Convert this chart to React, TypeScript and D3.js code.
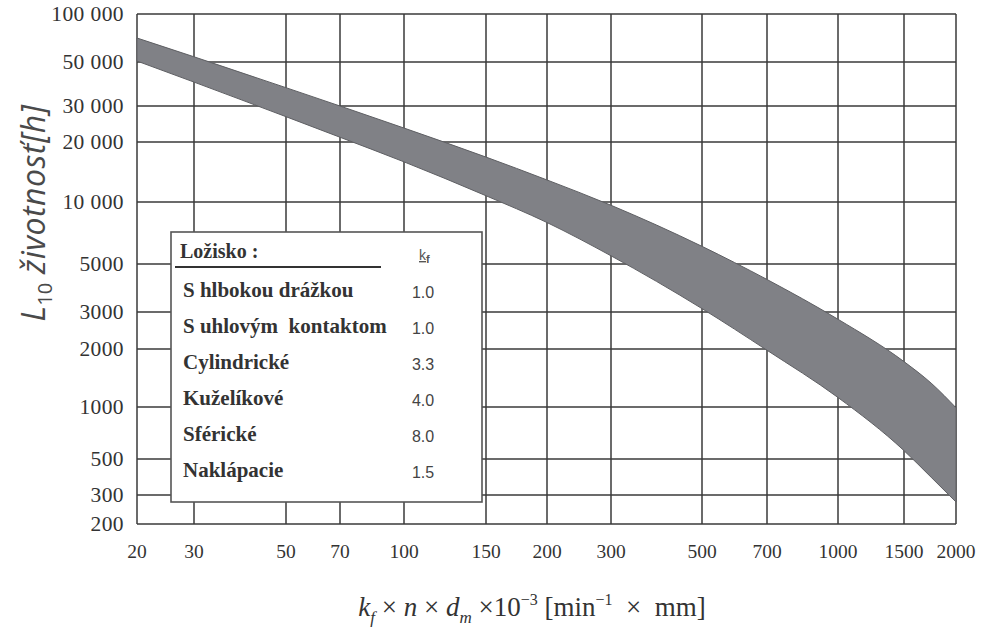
import * as React from 'react';
import * as d3 from 'd3';

const WIDTH = 991;
const HEIGHT = 627;

const xTicks = [20, 30, 50, 70, 100, 150, 200, 300, 500, 700, 1000, 1500, 2000];
const yTicks = [200, 300, 500, 1000, 2000, 3000, 5000, 10000, 20000, 30000, 50000, 100000];
const yTickLabels = ['200', '300', '500', '1000', '2000', '3000', '5000', '10 000', '20 000', '30 000', '50 000', '100 000'];

// L10 band (upper / lower edge)
const bandX = [20, 30, 50, 70, 100, 150, 200, 300, 500, 700, 1000, 1500, 1750, 2000];
const bandUpper = [70700, 53900, 37100, 30000, 23400, 16800, 12900, 9640, 6090, 4240, 2770, 1720, 1320, 990];
const bandLower = [50700, 39600, 26600, 21100, 15900, 10750, 7950, 5480, 3110, 1970, 1120, 559, 382, 272];

const bearings = ['S hlbokou drážkou', 'S uhlovým  kontaktom', 'Cylindrické', 'Kuželíkové', 'Sférické', 'Naklápacie'];
const kfValues = ['1.0', '1.0', '3.3', '4.0', '8.0', '1.5'];

// the printed axes are not evenly spaced, so the log scales are piecewise
const xStops = [137, 194, 286, 340, 404, 486, 547, 611, 702, 767, 838, 904, 956];
const yStops = [524, 495, 459, 407, 349, 312, 264, 202, 142, 106, 62, 14];

const SERIF = '"Liberation Serif", "Times New Roman", serif';
const SANS = '"Liberation Sans", Arial, sans-serif';

class LifeChart extends React.Component {
  svgRef = React.createRef<SVGSVGElement>();

  componentDidMount() {
    this.draw();
  }

  draw = () => {
    const svg = d3.select(this.svgRef.current);
    svg.selectAll('*').remove();

    const x = d3.scaleLog().domain(xTicks).range(xStops);
    const y = d3.scaleLog().domain(yTicks).range(yStops);
    const [x0, x1] = [x(20), x(2000)];
    const [y0, y1] = [y(200), y(100000)];

    // grid
    const grid = svg.append('g').attr('stroke', '#3a3a3a').attr('stroke-width', 1.5);
    grid
      .selectAll('line.v')
      .data(xTicks)
      .enter()
      .append('line')
      .attr('x1', d => x(d))
      .attr('x2', d => x(d))
      .attr('y1', y1)
      .attr('y2', y0);
    grid
      .selectAll('line.h')
      .data(yTicks)
      .enter()
      .append('line')
      .attr('x1', x0)
      .attr('x2', x1)
      .attr('y1', d => y(d))
      .attr('y2', d => y(d));

    // band
    const rows = bandX.map((v, i) => ({ x: v, hi: bandUpper[i], lo: bandLower[i] }));
    const area = d3
      .area<{ x: number; hi: number; lo: number }>()
      .x(d => x(d.x))
      .y0(d => y(d.lo))
      .y1(d => y(d.hi))
      .curve(d3.curveMonotoneX);
    svg
      .append('path')
      .datum(rows)
      .attr('d', area)
      .attr('fill', '#808186')
      .attr('stroke', '#5e5f63')
      .attr('stroke-width', 1);

    // tick labels
    svg
      .append('g')
      .selectAll('text')
      .data(xTicks)
      .enter()
      .append('text')
      .attr('x', d => x(d))
      .attr('y', 558)
      .attr('text-anchor', 'middle')
      .attr('font-family', SERIF)
      .attr('font-size', 19.5)
      .attr('fill', '#333')
      .text(d => String(d));

    svg
      .append('g')
      .selectAll('text')
      .data(yTicks)
      .enter()
      .append('text')
      .attr('x', 124)
      .attr('y', d => y(d) + 7)
      .attr('text-anchor', 'end')
      .attr('font-family', SERIF)
      .attr('font-size', 21.5)
      .attr('letter-spacing', 0.4)
      .attr('fill', '#333')
      .style('white-space', 'pre')
      .text((d, i) => yTickLabels[i]);

    // x axis title
    const xt = svg
      .append('text')
      .attr('x', 532)
      .attr('y', 616)
      .attr('text-anchor', 'middle')
      .attr('font-family', SERIF)
      .attr('font-size', 27)
      .attr('fill', '#333')
      .style('white-space', 'pre');
    xt.append('tspan').attr('font-style', 'italic').text('k');
    xt.append('tspan').attr('font-style', 'italic').attr('font-size', 17).attr('dy', 7).text('f');
    xt.append('tspan').attr('dy', -7).text(' × ');
    xt.append('tspan').attr('font-style', 'italic').text('n');
    xt.append('tspan').text(' × ');
    xt.append('tspan').attr('font-style', 'italic').text('d');
    xt.append('tspan').attr('font-style', 'italic').attr('font-size', 17).attr('dy', 7).text('m');
    xt.append('tspan').attr('dy', -7).text(' ×10');
    xt.append('tspan').attr('font-size', 16).attr('dy', -11).text('−3');
    xt.append('tspan').attr('dy', 11).text(' [min');
    xt.append('tspan').attr('font-size', 16).attr('dy', -11).text('−1');
    xt.append('tspan').attr('dy', 11).text('  ×  mm]');

    // y axis title
    const yt = svg
      .append('text')
      .attr('transform', 'translate(45,213) rotate(-90)')
      .attr('text-anchor', 'middle')
      .attr('font-family', '"Open Sans", "Noto Sans", sans-serif')
      .attr('font-style', 'italic')
      .attr('font-size', 32)
      .attr('letter-spacing', 0.5)
      .attr('fill', '#4a4a4a')
      .style('white-space', 'pre');
    yt.append('tspan').text('L');
    yt.append('tspan').attr('font-size', 20).attr('font-style', 'normal').attr('letter-spacing', 0).attr('dy', 7).text('10');
    yt.append('tspan').attr('dy', -7).text(' životnosť[h]');

    // legend box
    const lg = svg.append('g');
    lg.append('rect')
      .attr('x', 171)
      .attr('y', 232)
      .attr('width', 311)
      .attr('height', 270)
      .attr('fill', '#fff')
      .attr('stroke', '#555')
      .attr('stroke-width', 1.6);
    lg.append('text')
      .attr('x', 180)
      .attr('y', 258)
      .attr('font-family', SERIF)
      .attr('font-weight', 'bold')
      .attr('font-size', 20)
      .attr('fill', '#333')
      .text('Ložisko :');
    lg.append('line')
      .attr('x1', 175)
      .attr('x2', 381)
      .attr('y1', 267)
      .attr('y2', 267)
      .attr('stroke', '#333')
      .attr('stroke-width', 2);
    const kf = lg
      .append('text')
      .attr('x', 419)
      .attr('y', 260)
      .attr('font-family', SANS)
      .attr('font-size', 14)
      .attr('fill', '#555');
    kf.append('tspan').attr('text-decoration', 'underline').text('k');
    kf.append('tspan').attr('font-size', 11).attr('dy', 3).attr('font-weight', 'bold').text('f');

    lg.selectAll('text.name')
      .data(bearings)
      .enter()
      .append('text')
      .attr('x', 183)
      .attr('y', (d, i) => 297 + i * 36)
      .attr('font-family', SERIF)
      .attr('font-weight', 'bold')
      .attr('font-size', 21)
      .attr('fill', '#333')
      .style('white-space', 'pre')
      .text(d => d);
    lg.selectAll('text.kf')
      .data(kfValues)
      .enter()
      .append('text')
      .attr('x', 423)
      .attr('y', (d, i) => 298 + i * 36)
      .attr('text-anchor', 'middle')
      .attr('font-family', SANS)
      .attr('font-size', 16)
      .attr('fill', '#444')
      .text(d => d);
  };

  render() {
    return (
      <svg
        ref={this.svgRef}
        width={WIDTH}
        height={HEIGHT}
        style={{ position: 'absolute', left: 0, top: 0, background: '#fff' }}
      />
    );
  }
}

export default function App() {
  return <LifeChart />;
}
